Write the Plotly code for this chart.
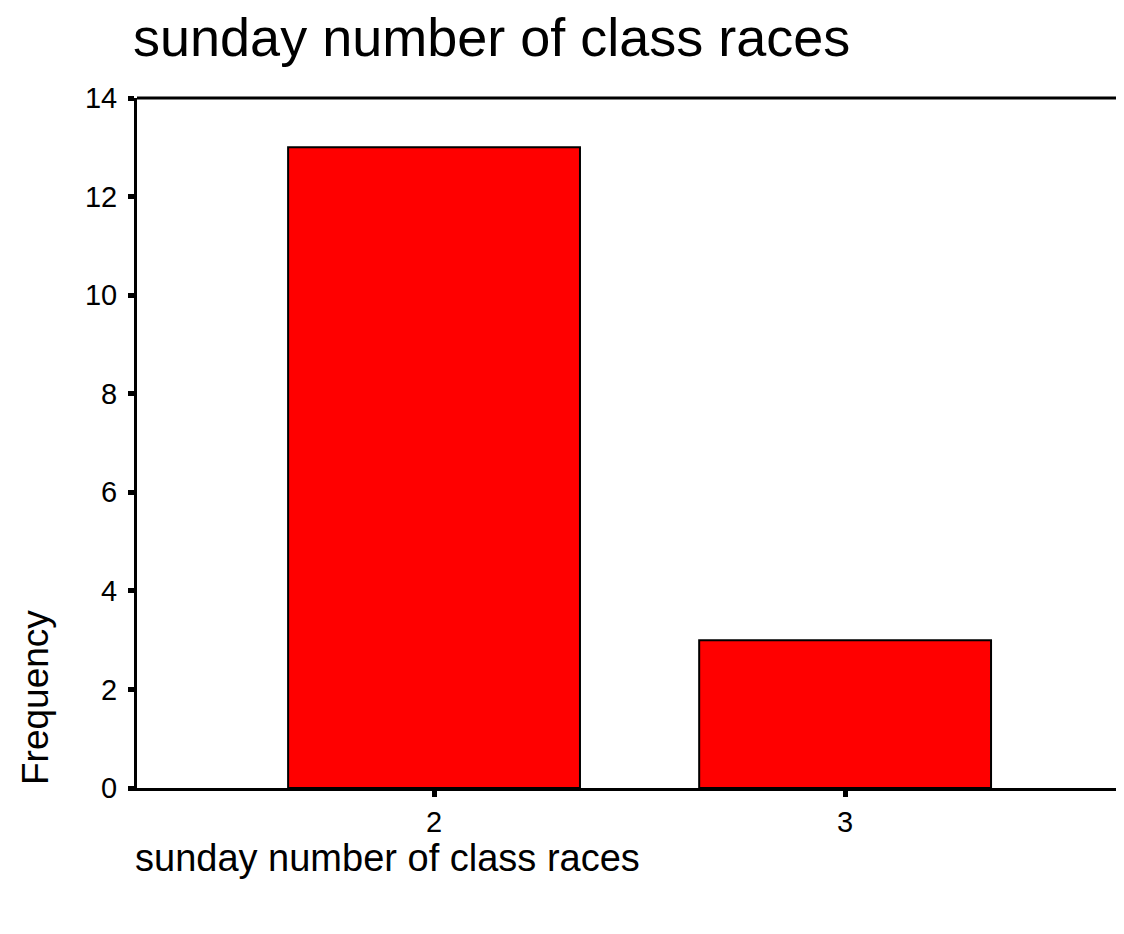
import plotly.graph_objects as go

categories = [2, 3]
frequencies = [13, 3]
y_ticks = [0, 2, 4, 6, 8, 10, 12, 14]

FONT = "Liberation Sans, Arial, sans-serif"

W, H = 1108, 918          # page adds an 8px body margin around the figure
L, R, T, B = 129, 0, 90, 138
PW, PH = W - L - R, H - T - B

fig = go.Figure()
fig.add_trace(go.Bar(
    x=categories, y=frequencies, width=0.71,
    marker=dict(color="#FF0000", line=dict(color="black", width=2)),
))

fig.update_layout(
    width=W, height=H,
    margin=dict(l=L, r=R, t=T, b=B),
    paper_bgcolor="white", plot_bgcolor="white",
    showlegend=False,
    font=dict(family=FONT, color="black"),
    title=dict(text="sunday number of class races", x=125/W, xanchor="left",
               y=1 - 29/H, yanchor="middle", font=dict(size=54, family=FONT)),
    xaxis=dict(range=[1.2774, 3.659], tickvals=categories, ticktext=[str(c) for c in categories],
               showline=True, linecolor="black", linewidth=3,
               ticks="outside", ticklen=6, tickwidth=5, tickcolor="black",
               showgrid=False, zeroline=False, tickfont=dict(size=29)),
    yaxis=dict(range=[0, 14], tickvals=y_ticks,
               showline=True, linecolor="black", linewidth=3,
               ticks="outside", ticklen=6, tickwidth=5, tickcolor="black",
               ticklabelstandoff=5,
               showgrid=False, zeroline=False, tickfont=dict(size=29)),
    shapes=[dict(type="line", xref="paper", yref="paper", x0=0, x1=1, y0=1, y1=1,
                 line=dict(color="black", width=3))],
    annotations=[
        dict(text="Frequency", xref="paper", yref="paper", x=(27 - L)/PW, y=(H - B - 690)/PH,
             textangle=-90, showarrow=False, xanchor="center", yanchor="middle",
             font=dict(size=37, family=FONT)),
        dict(text="sunday number of class races", xref="paper", yref="paper",
             x=0, xanchor="left", y=-(850 - (H - B))/PH, yanchor="middle", xshift=-4,
             showarrow=False, font=dict(size=38, family=FONT)),
    ],
)

fig.write_html("out.html")
